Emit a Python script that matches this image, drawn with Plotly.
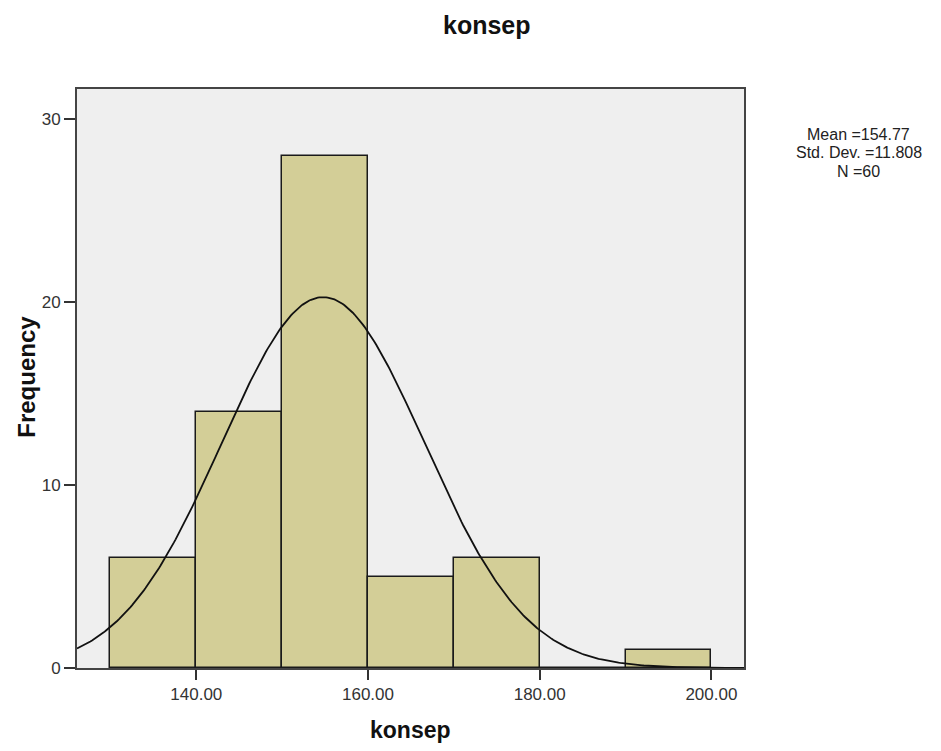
import numpy as np
import plotly.graph_objects as go

# Histogram data (bin edges of width 10)
bin_starts = [130, 140, 150, 160, 170, 180, 190]
counts = [6, 14, 28, 5, 6, 0, 1]
bin_width = 10

mean_val = 154.77
std_val = 11.808
n_val = 60

x_ticks = [140, 160, 180, 200]
x_tick_labels = ["140.00", "160.00", "180.00", "200.00"]
y_ticks = [0, 10, 20, 30]

x_range = [126.1, 203.8]
y_range = [0, 31.65]

centers = [s + bin_width / 2 for s in bin_starts]

xc = np.linspace(x_range[0], x_range[1], 400)
yc = n_val * bin_width / (std_val * np.sqrt(2 * np.pi)) * np.exp(-0.5 * ((xc - mean_val) / std_val) ** 2)

fig = go.Figure()
fig.add_trace(go.Bar(
    x=centers, y=counts, width=bin_width,
    marker=dict(color="#d3ce97", line=dict(color="#1a1a1a", width=1.5)),
    showlegend=False, hoverinfo="x+y",
))
fig.add_trace(go.Scatter(
    x=xc, y=yc, mode="lines",
    line=dict(color="#111111", width=1.8),
    showlegend=False, hoverinfo="skip",
))

font_family = "Liberation Sans, Arial, sans-serif"

stats_lines = [f"Mean ={mean_val:.2f}", f"Std. Dev. ={std_val:.3f}", f"N ={n_val}"]
stats_shifts = [-45, -63.5, -82]

annotations = [
    dict(
        text="<b>konsep</b>", xref="paper", yref="paper",
        x=0.615, y=1.0, yshift=64, showarrow=False,
        font=dict(size=25, color="#111111"), xanchor="center", yanchor="middle",
    ),
    dict(
        text="<b>konsep</b>", xref="paper", yref="paper",
        x=0.5, y=0.0, yshift=-62, showarrow=False,
        font=dict(size=23, color="#111111"), xanchor="center", yanchor="middle",
    ),
    dict(
        text="<b>Frequency</b>", xref="paper", yref="paper",
        x=-0.075, y=0.503, textangle=-90, showarrow=False,
        font=dict(size=24, color="#111111"), xanchor="center", yanchor="middle",
    ),
]
for line, shift in zip(stats_lines, stats_shifts):
    annotations.append(dict(
        text=line, xref="paper", yref="paper", x=1.172, y=1.0, yshift=shift,
        showarrow=False, align="center", xanchor="center", yanchor="middle",
        font=dict(size=16, color="#222222"),
    ))

fig.update_layout(
    width=941, height=751,
    margin=dict(l=69, r=205, t=81, b=91),
    paper_bgcolor="white",
    plot_bgcolor="#efefef",
    bargap=0,
    font=dict(family=font_family, color="#333333", size=17),
    xaxis=dict(
        range=x_range, tickvals=x_ticks, ticktext=x_tick_labels,
        ticks="outside", ticklen=10, tickwidth=1.5, tickcolor="#333333",
        showline=True, linecolor="#444444", linewidth=2, mirror=True,
        showgrid=False, zeroline=False,
        tickfont=dict(size=17, color="#333333"),
    ),
    yaxis=dict(
        range=y_range, tickvals=y_ticks,
        ticks="outside", ticklen=11, tickwidth=1.5, tickcolor="#333333",
        showline=True, linecolor="#444444", linewidth=2, mirror=True,
        showgrid=False, zeroline=False,
        tickfont=dict(size=17, color="#333333"),
    ),
    annotations=annotations,
)

fig.write_html("out.html")
